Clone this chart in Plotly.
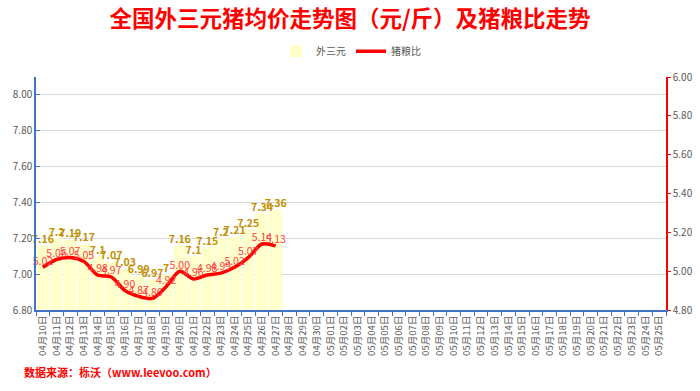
import plotly.graph_objects as go

dates = [f"04月{d:02d}日" for d in range(10, 31)] + [f"05月{d:02d}日" for d in range(1, 26)]
price_waisanyuan = [7.16, 7.2, 7.19, 7.17, 7.1, 7.07, 7.03, 6.99, 6.97, 7, 7.16, 7.1, 7.15, 7.2, 7.21, 7.25, 7.34, 7.36]
pig_grain_ratio = [5.02, 5.06, 5.07, 5.05, 4.98, 4.97, 4.90, 4.87, 4.86, 4.92, 5.00, 4.96, 4.98, 4.99, 5.02, 5.07, 5.14, 5.13]

n = len(price_waisanyuan)
FONT = "Noto Sans CJK SC"

fig = go.Figure()
fig.add_trace(go.Bar(
    x=dates[:n], y=price_waisanyuan, name="外三元",
    marker=dict(color="#FFFFCC", line=dict(width=0)),
))
fig.add_trace(go.Scatter(
    x=dates[:n], y=price_waisanyuan, mode="text", showlegend=False,
    text=[f"{v:g}" for v in price_waisanyuan], textposition="top center",
    textfont=dict(color="#BF9000", size=10.5, family=FONT, weight="bold"),
    cliponaxis=False, hoverinfo="skip",
))
fig.add_trace(go.Scatter(
    x=dates[:n], y=pig_grain_ratio, name="猪粮比", yaxis="y2",
    mode="lines+text", line=dict(color="#FF0000", width=3.5, shape="spline", smoothing=0.8),
    text=[f"{v:.2f}" for v in pig_grain_ratio], textposition="top center",
    textfont=dict(color="#FF4040", size=10.5, family=FONT),
    cliponaxis=False,
))

fig.update_layout(
    width=700, height=391,
    margin=dict(l=36, r=34, t=77, b=81),
    paper_bgcolor="white", plot_bgcolor="white",
    font=dict(family=FONT, color="#595959"),
    title=dict(text="<b>全国外三元猪均价走势图（元/斤）及猪粮比走势</b>",
               x=0.5, xanchor="center", y=0.95, yanchor="middle",
               font=dict(size=22.5, color="#FF0000", family=FONT)),
    legend=dict(orientation="h", x=0.5, xanchor="center", y=1.11, yanchor="middle",
                font=dict(size=10, color="#595959"), bgcolor="rgba(0,0,0,0)"),
    bargap=0.08,
    showlegend=True,
    xaxis=dict(type="category", categoryorder="array", categoryarray=dates,
               range=[-0.5, len(dates) - 0.5], automargin=False,
               tickangle=-90, tickfont=dict(size=9.5, color="#595959"),
               showline=True, linecolor="#4472C4", linewidth=2,
               ticks="outside", tickcolor="#4472C4", ticklen=4, tickson="boundaries",
               showgrid=False),
    yaxis=dict(range=[6.8, 8.1], dtick=0.2, tick0=6.8, tickformat=".2f", automargin=False,
               tickfont=dict(size=10, color="#595959"),
               showline=True, linecolor="#4472C4", linewidth=1.5,
               ticks="inside", tickcolor="#4472C4", ticklen=4,
               showgrid=True, gridcolor="#D9D9D9", gridwidth=1, zeroline=False),
    yaxis2=dict(range=[4.8, 6.0], dtick=0.2, tick0=4.8, tickformat=".2f",
                overlaying="y", side="right", automargin=False,
                tickfont=dict(size=10, color="#595959"),
                showline=True, linecolor="#FF0000", linewidth=1.5,
                ticks="outside", tickcolor="#FF0000", ticklen=3,
                showgrid=False, zeroline=False),
    annotations=[dict(text="<b>数据来源：栎沃（www.leevoo.com）</b>", xref="paper", yref="paper",
                      x=-0.022, y=-0.266, xanchor="left", yanchor="middle", showarrow=False,
                      font=dict(size=11, color="#FF0000", family=FONT))],
)

fig.write_html("out.html", config={"displayModeBar": False},
               post_script="document.body.style.margin='0';document.body.style.overflow='hidden';")
